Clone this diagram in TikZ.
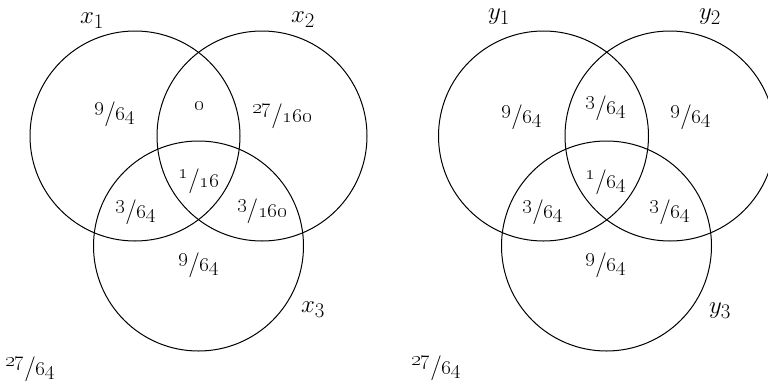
\documentclass[tikz,border=0pt]{standalone}
\newcommand{\vfr}[2]{\raisebox{0.42em}{\oldstylenums{#1}}{\fontsize{25}{30}\selectfont/}\oldstylenums{#2}}
\begin{document}
\begin{tikzpicture}[x=1pt,y=-1pt,
  ring/.style={draw,line width=1pt,circle,minimum size=210pt,inner sep=0pt},
  setlab/.style={inner sep=0pt,font=\fontsize{30}{36}\selectfont},
  frac/.style={inner sep=0pt,font=\fontsize{22}{26}\selectfont}]
\useasboundingbox (0,0) rectangle (768,381);
% left diagram
\node[ring] (c1) at (135,136) {};
\node[ring] (c2) at (262,136) {};
\node[ring] (c3) at (198.5,246) {};
\node[setlab] (lx1) at (92,21) {$x_1$};
\node[setlab] (lx2) at (303,20) {$x_2$};
\node[setlab] (lx3) at (313,310) {$x_3$};
\node[frac] (a1) at (115,114) {\vfr{9}{64}};
\node[frac] (a12) at (199,106) {\oldstylenums{0}};
\node[frac] (a2) at (282,116) {\vfr{27}{160}};
\node[frac] (a123) at (199,181) {\vfr{1}{16}};
\node[frac] (a13) at (136,212) {\vfr{3}{64}};
\node[frac] (a23) at (262,211) {\vfr{3}{160}};
\node[frac] (a3) at (199,265) {\vfr{9}{64}};
\node[frac] (a0) at (30,369) {\vfr{27}{64}};
% right diagram
\node[ring] (d1) at (543.5,136) {};
\node[ring] (d2) at (670,136) {};
\node[ring] (d3) at (606.5,246) {};
\node[setlab] (ly1) at (499,17) {$y_1$};
\node[setlab] (ly2) at (710,17) {$y_2$};
\node[setlab] (ly3) at (720,311) {$y_3$};
\node[frac] (b1) at (522,117) {\vfr{9}{64}};
\node[frac] (b12) at (606,108) {\vfr{3}{64}};
\node[frac] (b2) at (691,117) {\vfr{9}{64}};
\node[frac] (b123) at (606,182) {\vfr{1}{64}};
\node[frac] (b13) at (543,212) {\vfr{3}{64}};
\node[frac] (b23) at (670,212) {\vfr{3}{64}};
\node[frac] (b3) at (606,265) {\vfr{9}{64}};
\node[frac] (b0) at (436,368) {\vfr{27}{64}};
\end{tikzpicture}
\end{document}
